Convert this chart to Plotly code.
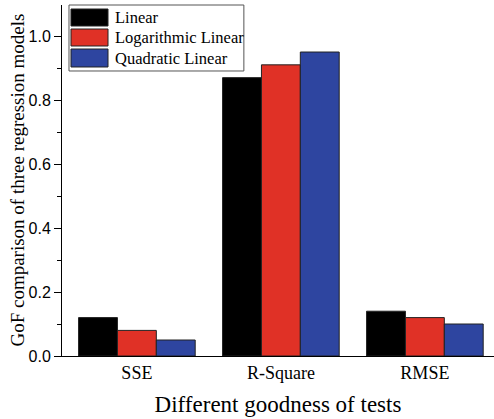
import plotly.graph_objects as go

categories = ["SSE", "R-Square", "RMSE"]
series_names = ["Linear", "Logarithmic Linear", "Quadratic Linear"]
linear = [0.12, 0.87, 0.14]
log_linear = [0.08, 0.91, 0.12]
quad_linear = [0.05, 0.95, 0.10]
colors = ["#000000", "#e03126", "#2e45a0"]

values = [linear, log_linear, quad_linear]

fig = go.Figure()
for name, vals, col in zip(series_names, values, colors):
    fig.add_trace(go.Bar(
        x=categories, y=vals, name=name,
        marker=dict(color=col, line=dict(color="#222222", width=1)),
        showlegend=False,
    ))

serif = "Liberation Serif, Times New Roman, serif"
sans = "Liberation Sans, Arial, sans-serif"

# custom legend (box + swatches + labels) in paper coordinates
shapes = [dict(type="rect", xref="paper", yref="paper",
               x0=0.0162, x1=0.421, y0=0.812, y1=1.0,
               line=dict(color="#555555", width=1), fillcolor="white", layer="above")]
annotations = []
rows = [(0.9886, 0.9402, 0.964), (0.9316, 0.8832, 0.907), (0.8746, 0.8234, 0.849)]
for (y1, y0, yc), name, col in zip(rows, series_names, colors):
    shapes.append(dict(type="rect", xref="paper", yref="paper",
                       x0=0.0208, x1=0.1065, y0=y0, y1=y1,
                       line=dict(color="#222222", width=1), fillcolor=col, layer="above"))
    annotations.append(dict(xref="paper", yref="paper", x=0.118, y=yc,
                            text=name, showarrow=False, xanchor="left", yanchor="middle",
                            font=dict(family=serif, size=16.5, color="#000000")))

# y-axis title
annotations.append(dict(xref="paper", yref="paper", x=-0.104, y=0.5,
                        text="GoF comparison of three regression models",
                        textangle=-90, showarrow=False, xanchor="center", yanchor="middle",
                        font=dict(family=serif, size=19, color="#000000")))

fig.update_layout(
    width=494, height=419,
    margin=dict(l=62, r=0, t=5, b=63),
    paper_bgcolor="white", plot_bgcolor="white",
    barmode="group", bargap=0.19, bargroupgap=0,
    shapes=shapes, annotations=annotations,
    xaxis=dict(
        range=[-0.52, 2.48], showline=True, linecolor="#000000", linewidth=1,
        ticks="", tickfont=dict(family=serif, size=18, color="#000000"),
        title=dict(text="Different goodness of tests",
                   font=dict(family=serif, size=23, color="#000000"), standoff=14),
        showgrid=False,
    ),
    yaxis=dict(
        range=[0, 1.097], dtick=0.2, tickformat=".1f",
        showline=True, linecolor="#000000", linewidth=1,
        ticks="outside", ticklen=7, tickcolor="#000000",
        minor=dict(dtick=0.1, ticks="outside", ticklen=4, tickcolor="#000000", showgrid=False),
        tickfont=dict(family=sans, size=16, color="#000000"),
        showgrid=False, zeroline=False,
    ),
)

fig.write_html("out.html")
